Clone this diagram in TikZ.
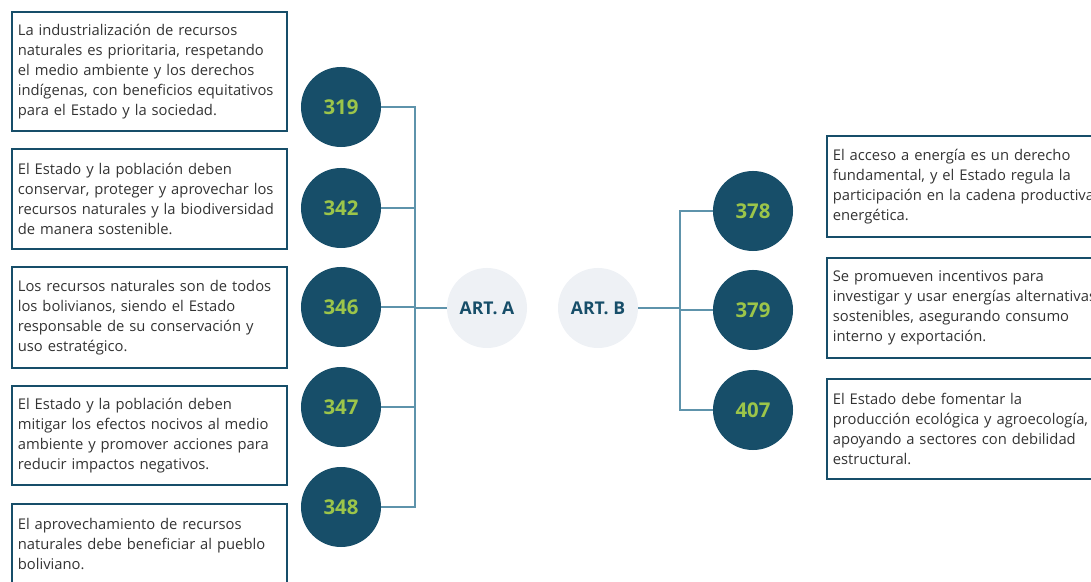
\documentclass[tikz,border=0pt]{standalone}
\usepackage{fontspec}
\setmainfont{Open Sans}
\usetikzlibrary{positioning}
\definecolor{navy}{HTML}{174E69}
\definecolor{lime}{HTML}{9CC54A}
\definecolor{artgray}{HTML}{EEF1F5}
\definecolor{linecol}{HTML}{5E93AB}
\definecolor{txtgray}{HTML}{333333}

\begin{document}
\begin{tikzpicture}[x=0.025cm, y=-0.025cm,
  numc/.style   = {circle, fill=navy, minimum size=2cm, inner sep=0pt, text=lime, font=\fontsize{14.5}{16}\selectfont\bfseries},
  artc/.style   = {circle, fill=artgray, minimum size=2cm, inner sep=0pt, text=navy, font=\fontsize{12.5}{14}\selectfont\bfseries},
  txtbox/.style = {draw=navy, line width=1.2pt, rectangle, text width=6.575cm, align=left, inner sep=0.15cm, text=txtgray, anchor=north west, font=\fontsize{10.5}{14.2}\selectfont},
  rbox/.style   = {txtbox, text width=7.2cm},
  conn/.style   = {draw=linecol, line width=0.9pt}]

\useasboundingbox (0,0) rectangle (1091,582);
\clip (0,0) rectangle (1091,582);

% text boxes, left column
\node[txtbox, minimum height=2.975cm] (t319) at (11,11) {La industrialización de recursos\\ naturales es prioritaria, respetando\\ el medio ambiente y los derechos\\ indígenas, con beneficios equitativos\\ para el Estado y la sociedad.};
\node[txtbox, minimum height=2.5cm] (t342) at (11,148) {El Estado y la población deben\\ conservar, proteger y aprovechar los\\ recursos naturales y la biodiversidad\\ de manera sostenible.};
\node[txtbox, minimum height=2.525cm] (t346) at (11,266) {Los recursos naturales son de todos\\ los bolivianos, siendo el Estado\\ responsable de su conservación y\\ uso estratégico.};
\node[txtbox, minimum height=2.475cm] (t347) at (11,385) {El Estado y la población deben\\ mitigar los efectos nocivos al medio\\ ambiente y promover acciones para\\ reducir impactos negativos.};
\node[txtbox, minimum height=2cm] (t348) at (11,503) {El aprovechamiento de recursos\\ naturales debe beneficiar al pueblo\\ boliviano.};

% text boxes, right column
\node[rbox, minimum height=2.525cm] (t378) at (826,135) {El acceso a energía es un derecho\\ fundamental, y el Estado regula la\\ participación en la cadena productiva\\ energética.};
\node[rbox, minimum height=2.5cm] (t379) at (826,257) {Se promueven incentivos para\\ investigar y usar energías alternativas\\ sostenibles, asegurando consumo\\ interno y exportación.};
\node[rbox, minimum height=2.5cm] (t407) at (826,378) {El Estado debe fomentar la\\ producción ecológica y agroecología,\\ apoyando a sectores con debilidad\\ estructural.};

% article numbers
\node[numc] (c319) at (341,107) {319};
\node[numc] (c342) at (341,208) {342};
\node[numc] (c346) at (341,307) {346};
\node[numc] (c347) at (341,407) {347};
\node[numc] (c348) at (341,507) {348};

\node[numc] (c378) at (753,211) {378};
\node[numc] (c379) at (753,310) {379};
\node[numc] (c407) at (753,410) {407};

% the two groups
\node[artc] (artA) at (487,308) {ART. A};
\node[artc] (artB) at (598,308) {ART. B};

\coordinate (jA) at (415,308);
\coordinate (jB) at (680,308);

%----------------------- connectors -----------------------
\foreach \n in {319,342,346,347,348}
  \draw[conn] (c\n.east) -| (jA);
\draw[conn] (jA) -- (artA);

\draw[conn] (artB) -- (jB);
\foreach \n in {378,379,407}
  \draw[conn] (jB) |- (c\n.west);

\end{tikzpicture}
\end{document}
